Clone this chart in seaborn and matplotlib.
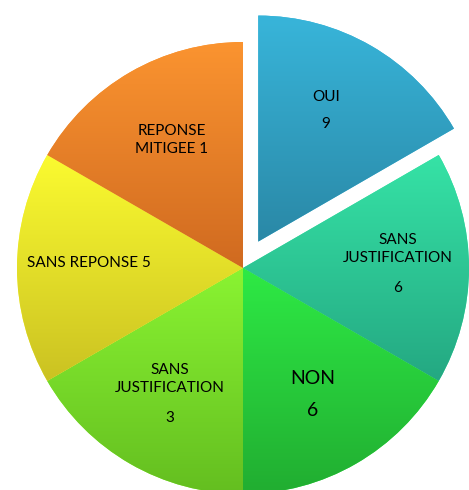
import matplotlib
matplotlib.use("Agg")
import matplotlib.pyplot as plt
import seaborn as sns
import numpy as np
from matplotlib.colors import LinearSegmentedColormap

# six equal slices; the counts only appear in the label text
names = ["OUI", "SANS\nJUSTIFICATION", "NON", "SANS\nJUSTIFICATION",
         "SANS REPONSE", "REPONSE\nMITIGEE"]
counts = [9, 6, 6, 3, 5, 1]
shares = [1, 1, 1, 1, 1, 1]
explode = [0.135, 0, 0, 0, 0, 0]

# gradient colours per slice (top, bottom)
top_colors = ["#38b5da", "#36e3a6", "#2eea45", "#8af432", "#fbfb30", "#fb9430"]
bottom_colors = ["#2a88a6", "#24a882", "#21ad31", "#64be20", "#cbc222", "#d06a20"]

sns.set_theme(style="white")
plt.rcParams['font.family'] = ['Lato', 'DejaVu Sans']

fig = plt.figure(figsize=(4.69, 4.90), dpi=100)
ax = fig.add_axes([0, 0, 1, 1])

cx, cy, r = 243, 222, 226
wedges, _ = ax.pie(shares, colors=top_colors, startangle=90, counterclock=False,
                   explode=[e * r for e in explode], radius=r, center=(cx, cy),
                   wedgeprops=dict(linewidth=0))

for w, c1, c2 in zip(wedges, top_colors, bottom_colors):
    cmap = LinearSegmentedColormap.from_list("g", [c1, c2])
    bb = w.get_path().get_extents()
    grad = np.linspace(0, 1, 256).reshape(-1, 1)
    im = ax.imshow(grad, cmap=cmap, extent=[bb.x0, bb.x1, bb.y0, bb.y1],
                   origin="upper", aspect="auto", zorder=w.get_zorder() + 0.1)
    im.set_clip_path(w)

# label placement (pixel estimates from reference, y measured from top)
name_pos = [(326, 97), (398, 249), (313, 378), (170, 379), (89, 263), (172, 140)]
count_pos = [(326, 124), (398, 288), (313, 410), (170, 418), None, None]
sizes = [11, 11, 14, 11, 11, 11]
H = 490
for name, cnt, npos, cpos, fs in zip(names, counts, name_pos, count_pos, sizes):
    txt = name if cpos else f"{name} {cnt}"
    ax.text(npos[0], H - npos[1], txt, ha="center", va="center", fontsize=fs,
            color="black", linespacing=1.3, zorder=10)
    if cpos:
        ax.text(cpos[0], H - cpos[1], str(cnt), ha="center", va="center",
                fontsize=fs, color="black", zorder=10)

ax.set_xlim(0, 469)
ax.set_ylim(0, 490)
ax.set_aspect("equal")
ax.axis("off")

fig.savefig("out.png", dpi=100, facecolor="white")
